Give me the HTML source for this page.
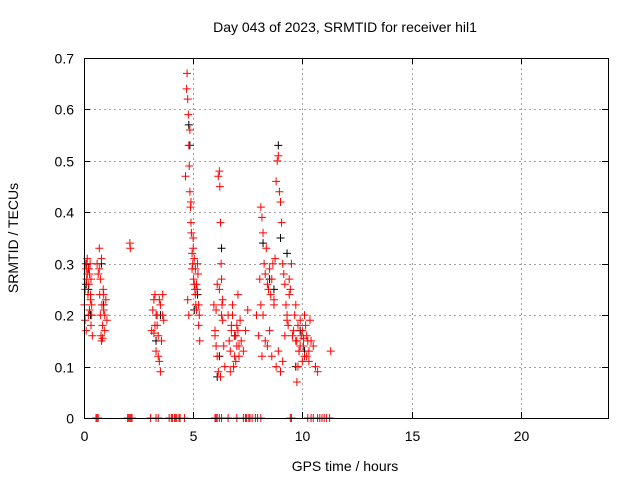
<!DOCTYPE html>
<html><head><meta charset="utf-8"><style>
body{margin:0;background:#fff;}
svg{display:block;font-family:"Liberation Sans",sans-serif;}
</style></head><body>
<svg id="chart" width="640" height="480">
<text x="345" y="32" font-size="14" text-anchor="middle">Day 043 of 2023, SRMTID for receiver hil1</text>
<text x="345" y="471" font-size="14" text-anchor="middle">GPS time / hours</text>
<text transform="translate(18,238) rotate(-90)" font-size="14" text-anchor="middle">SRMTID / TECUs</text>
<g id="grid"></g><g id="ticks"></g><g id="marks"></g>
<rect x="84.5" y="58.5" width="524" height="360" fill="none" stroke="#000"/>
</svg>
<script>
const xTicks=[0,5,10,15,20];
const yTicks=[0,0.1,0.2,0.3,0.4,0.5,0.6,0.7];
const yTickLabels=["0","0.1","0.2","0.3","0.4","0.5","0.6","0.7"];
const redTimes=[0.02,0.05,0.08,0.1,0.12,0.15,0.18,0.2,0.22,0.25,0.28,0.3,0.32,0.35,0.38,0.05,0.1,0.15,0.2,0.25,0.3,0.35,0.12,0.22,0.32,
0.6,0.65,0.7,0.72,0.75,0.78,0.8,0.82,0.85,0.88,0.9,0.95,1.0,1.05,0.7,0.8,0.9,0.85,0.75,0.95,
2.1,2.12,
3.1,3.15,3.2,3.25,3.3,3.35,3.4,3.45,3.5,3.55,3.6,3.65,3.3,3.4,3.5,3.2,3.6,3.45,3.35,3.25,
4.65,4.7,4.72,4.75,4.78,4.8,4.82,4.85,4.88,4.9,4.92,4.95,4.98,5.0,5.02,5.05,5.08,5.1,5.12,5.15,5.18,5.2,5.22,5.25,5.28,5.3,4.9,5.0,5.1,4.85,4.95,5.05,5.15,5.25,4.75,4.8,
5.95,6.0,6.05,6.1,6.15,6.2,6.22,6.25,6.28,6.3,6.32,6.35,6.4,6.45,6.1,6.2,6.3,6.0,6.15,6.25,6.35,6.05,
6.6,6.65,6.7,6.75,6.8,6.85,6.9,6.95,7.0,7.05,7.1,7.15,7.2,7.3,7.4,7.5,6.7,6.8,6.9,7.0,7.1,6.75,6.95,7.05,
7.9,8.0,8.05,8.1,8.15,8.2,8.25,8.3,8.35,8.4,8.45,8.5,8.55,8.6,8.65,8.7,8.75,8.8,8.85,8.9,8.95,9.0,9.05,9.1,9.15,9.2,9.25,9.3,9.35,9.4,9.45,9.5,9.55,8.3,8.5,8.7,8.9,9.1,9.3,8.2,8.4,8.6,8.8,9.0,9.2,9.4,8.1,8.15,
9.6,9.65,9.7,9.75,9.8,9.85,9.9,9.95,10.0,10.05,10.1,10.15,10.2,10.25,10.3,10.35,10.4,10.5,10.6,10.7,9.7,9.8,9.9,10.0,10.1,10.2,10.3,9.75,9.85,10.05,
11.3,11.32];
const redValues=[0.22,0.25,0.3,0.29,0.27,0.31,0.24,0.2,0.26,0.28,0.3,0.23,0.18,0.2,0.16,0.19,0.17,0.28,0.29,0.21,0.24,0.22,0.3,0.29,0.27,
0.3,0.28,0.33,0.24,0.2,0.16,0.15,0.22,0.18,0.25,0.24,0.17,0.23,0.19,0.29,0.31,0.21,0.155,0.27,0.2,
0.34,0.33,
0.17,0.21,0.23,0.24,0.2,0.18,0.16,0.23,0.22,0.15,0.2,0.19,0.13,0.12,0.09,0.165,0.24,0.11,0.2,0.18,
0.47,0.64,0.67,0.62,0.59,0.53,0.49,0.44,0.41,0.38,0.36,0.32,0.3,0.33,0.27,0.26,0.25,0.29,0.22,0.21,0.25,0.3,0.28,0.22,0.2,0.15,0.42,0.35,0.24,0.56,0.29,0.31,0.26,0.18,0.23,0.2,
0.22,0.17,0.14,0.26,0.47,0.48,0.45,0.38,0.3,0.27,0.22,0.19,0.14,0.1,0.12,0.25,0.2,0.16,0.09,0.08,0.23,0.21,
0.2,0.15,0.13,0.17,0.22,0.1,0.12,0.16,0.18,0.24,0.14,0.19,0.15,0.13,0.17,0.21,0.09,0.2,0.16,0.14,0.12,0.18,0.11,0.17,
0.2,0.16,0.27,0.41,0.39,0.36,0.3,0.28,0.33,0.26,0.25,0.29,0.24,0.27,0.3,0.22,0.31,0.46,0.5,0.51,0.44,0.42,0.38,0.3,0.28,0.26,0.22,0.2,0.18,0.24,0.25,0.3,0.16,0.15,0.17,0.23,0.13,0.11,0.19,0.2,0.14,0.12,0.1,0.09,0.16,0.27,0.22,
0.12,0.17,0.2,0.15,0.07,0.1,0.13,0.19,0.16,0.11,0.14,0.2,0.18,0.12,0.15,0.13,0.19,0.15,0.14,0.1,0.09,0.22,0.18,0.14,0.17,0.12,0.16,0.11,0.15,0.13,
0.155,0.13];
const blackTimes=[0.1,0.3,0.8,3.3,4.8,4.85,5.05,6.1,6.3,7.1,8.2,8.9,9.0,9.3,9.7,10.1,0.2,0.9,3.5,5.2,6.2,6.9,8.5,8.7,9.9];
const blackValues=[0.26,0.2,0.3,0.15,0.57,0.53,0.21,0.08,0.33,0.14,0.34,0.53,0.35,0.32,0.1,0.13,0.25,0.22,0.2,0.24,0.12,0.16,0.27,0.25,0.17];
const zeroTimes=[0.55,0.6,0.65,2.0,2.05,2.1,2.15,2.2,3.05,3.3,3.4,3.9,4.0,4.05,4.15,4.2,4.25,4.35,4.4,4.6,6.0,6.05,6.1,6.2,6.3,6.6,7.0,7.3,7.4,7.45,7.55,7.6,7.7,7.85,7.95,8.1,9.45,9.5,10.25,10.4,10.5,10.7,10.8,10.9,11.0,11.1,11.25];

const X0=84,X1=608,Y0=418,Y1=58;
const xs=h=>X0+(h/24)*(X1-X0);
const ys=v=>Y0-(v/0.7)*(Y0-Y1);
const NS="http://www.w3.org/2000/svg";
const grid=document.getElementById('grid'),ticks=document.getElementById('ticks'),marks=document.getElementById('marks');
function line(p,x1,y1,x2,y2,st,dash){const l=document.createElementNS(NS,'line');l.setAttribute('x1',x1);l.setAttribute('y1',y1);l.setAttribute('x2',x2);l.setAttribute('y2',y2);l.setAttribute('stroke',st);if(dash)l.setAttribute('stroke-dasharray',dash);p.appendChild(l);return l;}
function text(x,y,s,anchor){const t=document.createElementNS(NS,'text');t.setAttribute('x',x);t.setAttribute('y',y);t.setAttribute('font-size','14');t.setAttribute('text-anchor',anchor);t.textContent=s;ticks.appendChild(t);return t;}
xTicks.forEach(v=>{const x=Math.round(xs(v))+0.5;
 if(v>0){const g=line(grid,x,Y1,x,Y0,'#a0a0a0','2,3');
 
 }
 line(ticks,x,Y0,x,Y0-6,'#000');line(ticks,x,Y1,x,Y1+6,'#000');
 const t=text(x,Y0+23,String(v),'middle');
 
 });
yTicks.forEach((v,i)=>{const y=Math.round(ys(v))+0.5;
 if(v>0&&v<0.7){const g=line(grid,X0,y,X1,y,'#a0a0a0','2,3');
 
 }
 line(ticks,X0,y,X0+6,y,'#000');line(ticks,X1,y,X1-6,y,'#000');
 const t=text(X0-10,y+5,yTickLabels[i],'end');
 
 });
function plus(h,v,c,name){const g=document.createElementNS(NS,'path');const x=xs(h),y=ys(v);
 g.setAttribute('d',`M${x-4} ${y}h8M${x} ${y-4}v8`);g.setAttribute('stroke',c);g.setAttribute('stroke-width','1');
 
 
 marks.appendChild(g);}
blackTimes.forEach((h,i)=>plus(h,blackValues[i],'#000','black-point'));
redTimes.forEach((h,i)=>plus(h,redValues[i],'#f00','red-point'));
zeroTimes.forEach(h=>plus(h,0,'#f00','zero-point'));
</script>
</body></html>
